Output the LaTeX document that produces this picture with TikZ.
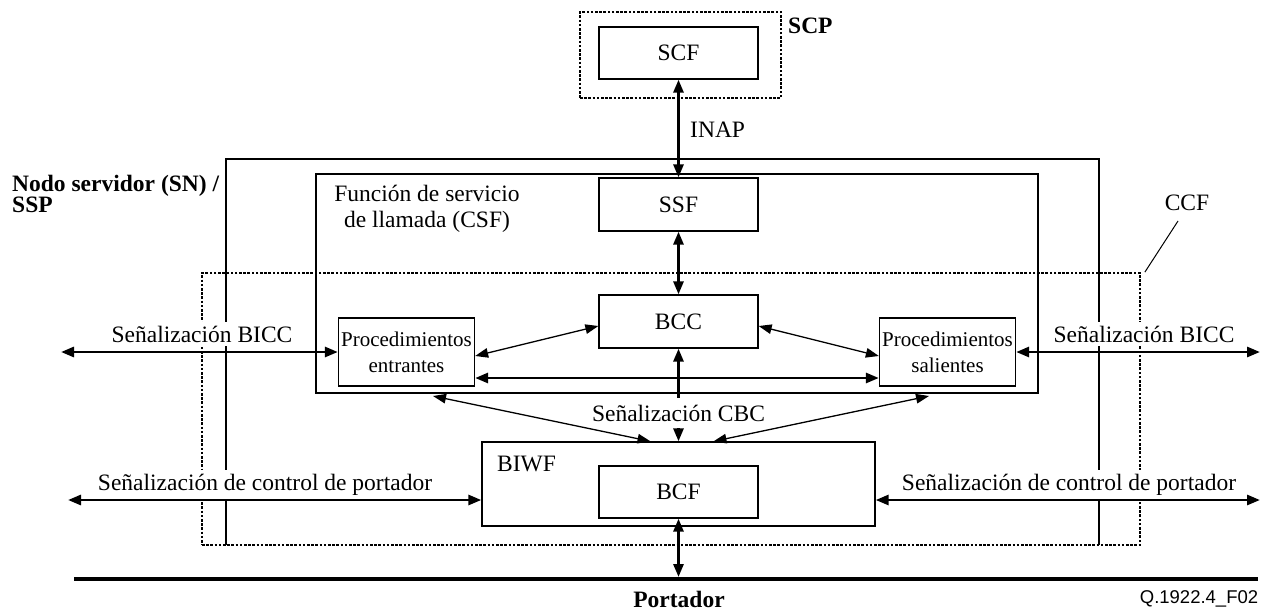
\documentclass[tikz,border=0pt]{standalone}
\usepackage{fontspec}
\setmainfont{Liberation Serif}
\newfontfamily\figsans{Liberation Sans}
\usetikzlibrary{arrows.meta}

\begin{document}
\begin{tikzpicture}[x=1pt,y=-1pt,
  box/.style={draw, line width=1.3pt, inner sep=0pt, align=center,
    font=\fontsize{23.5}{26}\selectfont},
  procbox/.style={box, minimum width=136pt, minimum height=68pt,
    font=\fontsize{21}{26}\selectfont},
  dotbox/.style={draw, line width=1.7pt, dash pattern=on 2.6pt off 1.6pt,
    inner sep=0pt},
  lbl/.style={inner sep=0pt, font=\fontsize{23.5}{26}\selectfont},
  siglbl/.style={lbl, fill=white, inner xsep=2pt, inner ysep=4pt},
  boldlbl/.style={inner sep=0pt, font=\bfseries\fontsize{23.5}{21}\selectfont},
  link/.style={line width=2.8pt,
    {Triangle[length=13pt,width=10pt]}-{Triangle[length=13pt,width=10pt]}},
  slim/.style={line width=1.3pt,
    {Triangle[length=13pt,width=9.5pt]}-{Triangle[length=13pt,width=9.5pt]}},
  tipend/.style={line width=2.8pt, -{Triangle[length=13pt,width=10pt]}},
]
\useasboundingbox (0,0) rectangle (1261,611);

% --- service control point ---
\node[dotbox, minimum width=201pt, minimum height=86pt] (scp) at (680.5,55) {};
\node[boldlbl, anchor=west] (scplbl) at (788,26) {SCP};
\node[box, minimum width=159pt, minimum height=52pt] (scf) at (678.5,53) {SCF};

% --- serving node frame (open at the bottom) ---
\draw[line width=1.3pt] (226,545) -- (226,159) -- (1099,159) -- (1099,545);
\node[boldlbl, anchor=base west, align=left] (snlbl) at (12,212)
  {Nodo servidor (SN) /\\SSP};

% --- call service function ---
\node[box, minimum width=722pt, minimum height=219pt] (csf) at (677,283.5) {};
\node[lbl, anchor=base, align=center] (csflbl) at (427,227)
  {Función de servicio\\de llamada (CSF)};
\node[box, minimum width=159pt, minimum height=53pt] (ssf) at (678.5,204.5) {SSF};

% --- call control function ---
\node[dotbox, minimum width=938pt, minimum height=272pt] (ccf) at (671,409) {};
\node[lbl] (ccflbl) at (1187,203) {CCF};
\coordinate (ccflead) at (1178,221);
\draw[line width=1pt] (ccf.north east) ++(4,0) coordinate (ccfcorner) -- (ccflead);

\node[box, minimum width=159pt, minimum height=53pt] (bcc) at (678.5,321.5) {BCC};
\node[procbox] (inproc) at (406.5,352) {Procedimientos\\entrantes};
\node[procbox] (outproc) at (947.5,352) {Procedimientos\\salientes};

% --- bearer interworking function ---
\node[box, minimum width=393pt, minimum height=84pt] (biwf) at (678.5,484) {};
\node[lbl, anchor=base west] (biwflbl) at (497,471) {BIWF};
\node[box, minimum width=159pt, minimum height=52pt] (bcf) at (678.5,492) {BCF};

% --- bearer ---
\coordinate (bearerL) at (74,579);
\coordinate (bearerR) at (1258,579);
\coordinate (bearerTap) at (678.5,577);
\draw[line width=4.4pt] (bearerL) -- (bearerR);
\node[boldlbl, anchor=base] (bearerlbl) at (679,607.5) {Portador};
\node[inner sep=0pt, font=\figsans\fontsize{18.5}{20}\selectfont, anchor=base]
  (figid) at (1199,603) {Q.1922.4\_F02};

% --- signalling labels (they mask the frame lines behind them) ---
\node[siglbl, anchor=base] (bicclblL) at (202,342) {Señalización BICC};
\node[siglbl, anchor=base] (bicclblR) at (1144,342) {Señalización BICC};
\node[siglbl, anchor=base] (bcslblL) at (265,490) {Señalización de control de portador};
\node[siglbl, anchor=base] (bcslblR) at (1069,490) {Señalización de control de portador};
\node[lbl, anchor=west] (inaplbl) at (690,130) {INAP};
\node[lbl, minimum height=30pt] (cbclbl) at (678.5,413) {Señalización CBC};

% --- free ends of external signalling ---
\coordinate (biccL) at (61,352);
\coordinate (biccR) at (1260,352);
\coordinate (bcsL) at (68,500);
\coordinate (bcsR) at (1260,500);
\coordinate (cbcIn) at (433,396);
\coordinate (cbcOut) at (929,396);

% --- connectors ---
\draw[link] (scf.south) -- (ssf.north);
\draw[link] (ssf.south) -- (bcc.north);

\draw[link] (biccL) -- (inproc.west);
\draw[link] (outproc.east) -- (biccR);

\draw[slim] ([yshift=-4pt]inproc.east) -- ([yshift=-4.5pt]bcc.west);
\draw[slim] ([yshift=-4.5pt]bcc.east) -- ([yshift=-4pt]outproc.west);
\draw[link] ([yshift=-26pt]inproc.east) -- ([yshift=-26pt]outproc.west);

\draw[tipend] (cbclbl.north) -- (bcc.south);
\draw[tipend] (cbclbl.south) -- (biwf.north);
\draw[slim] (cbcIn) -- ([xshift=-28pt]biwf.north);
\draw[slim] ([xshift=35pt]biwf.north) -- (cbcOut);

\draw[link] (bcsL) -- ([yshift=-16pt]biwf.west);
\draw[link] ([yshift=-16pt]biwf.east) -- (bcsR);

\draw[link] (bcf.south) -- (bearerTap);
\end{tikzpicture}
\end{document}
